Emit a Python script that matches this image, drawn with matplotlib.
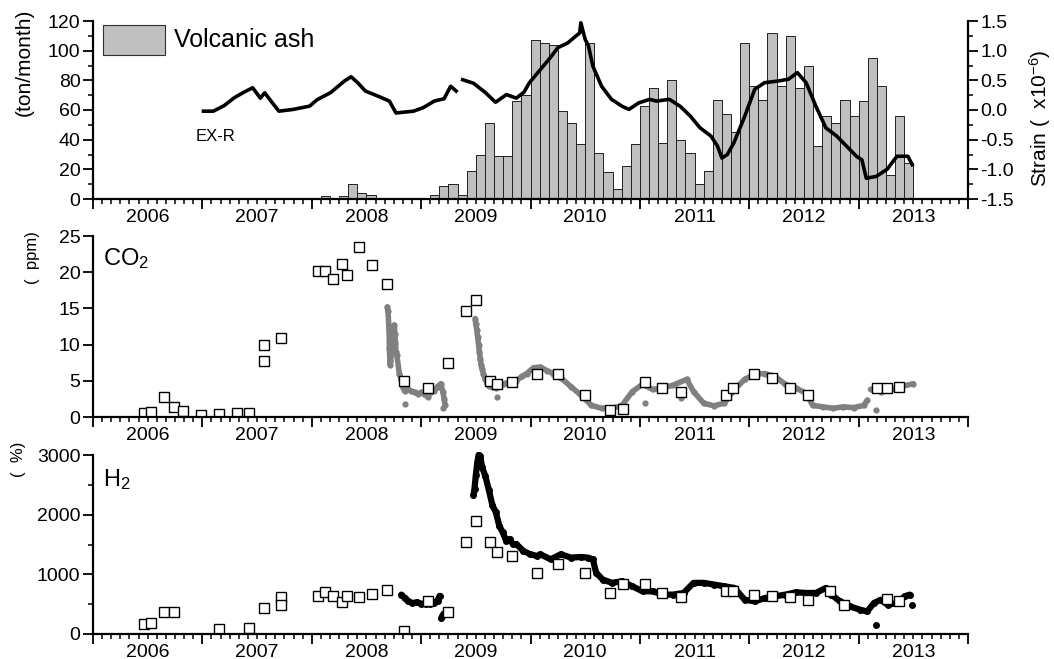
import matplotlib
matplotlib.use('Agg')
import numpy as np
import matplotlib.pyplot as plt
from matplotlib.patches import Rectangle
from matplotlib.ticker import MultipleLocator, FixedLocator, FuncFormatter, NullFormatter

plt.rcParams['font.family'] = ['Liberation Sans', 'DejaVu Sans']
plt.rcParams['axes.unicode_minus'] = False
plt.rcParams['mathtext.fontset'] = 'custom'
plt.rcParams['mathtext.rm'] = 'Liberation Sans'
plt.rcParams['mathtext.it'] = 'Liberation Sans:italic'

# ------------------------------------------------------------
# DATA
# ------------------------------------------------------------
# monthly volcanic ash, first bar = Feb 2008
ash_first_month = (2008, 2)
ash_tons = [2, 0, 2, 10, 4, 3, 0, 0, 0, 0, 0,
            1, 3, 9, 10, 3, 19, 30, 51, 29, 29, 66, 70,
            107, 105, 104, 59, 51, 37, 105, 31, 18, 7, 22, 37,
            63, 75, 38, 80, 40, 31, 10, 19, 67, 57, 45, 105,
            76, 67, 112, 76, 110, 75, 90, 36, 56, 51, 67, 56,
            66, 95, 76, 16, 56, 24]

# EX-R strain (x1e-6)
strain_year = [2007.01, 2007.10, 2007.20, 2007.29, 2007.38, 2007.46, 2007.53, 2007.57,
               2007.64, 2007.70, 2007.83, 2007.98, 2008.05, 2008.17, 2008.30, 2008.36,
               2008.42, 2008.49, 2008.61, 2008.71, 2008.77, 2008.93, 2009.02, 2009.12,
               2009.21, 2009.27, 2009.32, 2009.35, 2009.38, 2009.48, 2009.59, 2009.68,
               2009.78, 2009.87, 2009.94, 2009.99, 2010.09, 2010.18, 2010.25, 2010.34,
               2010.45, 2010.46, 2010.50, 2010.53, 2010.57, 2010.65, 2010.74, 2010.84,
               2010.90, 2010.99, 2011.09, 2011.15, 2011.27, 2011.37, 2011.46, 2011.55,
               2011.65, 2011.71, 2011.75, 2011.80, 2011.86, 2011.96, 2012.05, 2012.14,
               2012.27, 2012.36, 2012.44, 2012.52, 2012.61, 2012.70, 2012.80, 2012.89,
               2012.98, 2013.03, 2013.07, 2013.16, 2013.26, 2013.35, 2013.45, 2013.49]
strain_val = [-0.02, -0.02, 0.075, 0.205, 0.30, 0.375, 0.20, 0.29,
              0.12, -0.02, 0.01, 0.065, 0.175, 0.29, 0.49, 0.56,
              0.46, 0.32, 0.23, 0.15, -0.05, -0.02, 0.04, 0.15,
              0.19, 0.40, 0.32, np.nan, 0.51, 0.45, 0.29, 0.13,
              0.26, 0.20, 0.30, 0.46, 0.68, 0.88, 1.05, 1.13,
              1.30, 1.47, 1.19, 1.08, 0.74, 0.40, 0.18, 0.06,
              0.01, 0.12, 0.18, 0.15, 0.18, 0.06, -0.10, -0.30,
              -0.44, -0.61, -0.81, -0.75, -0.55, -0.10, 0.35, 0.46,
              0.49, 0.52, 0.63, 0.46, 0.06, -0.30, -0.44, -0.61,
              -0.78, -0.84, -1.15, -1.12, -1.00, -0.78, -0.78, -0.92]

# CO2 sampled (squares)
co2_smp_year = [2006.47, 2006.53, 2006.65, 2006.74, 2006.82, 2006.99, 2007.15, 2007.32,
                2007.43, 2007.56, 2007.56, 2007.72, 2008.06, 2008.12, 2008.19, 2008.28,
                2008.32, 2008.43, 2008.55, 2008.69, 2008.84, 2009.06, 2009.25, 2009.41,
                2009.50, 2009.63, 2009.69, 2009.83, 2010.06, 2010.25, 2010.50, 2010.73,
                2010.85, 2011.05, 2011.20, 2011.38, 2011.79, 2011.85, 2012.04, 2012.21,
                2012.37, 2012.54, 2013.17, 2013.26, 2013.37]
co2_smp_ppm = [0.56, 0.7, 2.8, 1.4, 0.85, 0.33, 0.47, 0.56,
               0.56, 9.96, 7.75, 10.95, 20.2, 20.2, 19.0, 21.1,
               19.6, 23.5, 21.0, 18.4, 5.0, 4.0, 7.4, 14.7,
               16.2, 5.0, 4.5, 4.9, 6.0, 6.0, 3.0, 1.0,
               1.1, 4.8, 4.0, 3.5, 3.0, 4.0, 6.0, 5.4,
               4.0, 3.0, 4.0, 4.0, 4.1]

# CO2 continuous (grey dots), three runs
co2_run1_year = [2008.691, 2008.697, 2008.707, 2008.710, 2008.715, 2008.718, 2008.754, 2008.760,
                 2008.765, 2008.770, 2008.778, 2008.801, 2008.817, 2008.830, 2008.848, 2008.88,
                 2008.91, 2008.94, 2008.97, 2009.00, 2009.03, 2009.06, 2009.09, 2009.12,
                 2009.15, 2009.18, 2009.20, 2009.21, 2009.22]
co2_run1_ppm = [15.2, 14.6, 12.0, 9.5, 7.7, 7.2, 12.7, 11.5,
                10.2, 9.0, 8.5, 6.0, 5.3, 4.2, 3.6, 3.8,
                3.6, 3.4, 3.2, 3.4, 3.2, 2.8, 3.5, 3.6,
                4.2, 4.6, 3.4, 2.5, 1.6]
co2_run2_year = [2009.494, 2009.50, 2009.509, 2009.517, 2009.525, 2009.533, 2009.541, 2009.549,
                 2009.557, 2009.57, 2009.588, 2009.60, 2009.62, 2009.65, 2009.683, 2009.72,
                 2009.75, 2009.777, 2009.82, 2009.871, 2009.92, 2009.966, 2010.027, 2010.09,
                 2010.152, 2010.21, 2010.277, 2010.370, 2010.463, 2010.557, 2010.650, 2010.744,
                 2010.837, 2010.930, 2011.024, 2011.117, 2011.210, 2011.304, 2011.429, 2011.491,
                 2011.584, 2011.677, 2011.771, 2011.865, 2011.958, 2012.051, 2012.144, 2012.237,
                 2012.331, 2012.425, 2012.518, 2012.580, 2012.673, 2012.767, 2012.861, 2012.954,
                 2013.047, 2013.078]
co2_run2_ppm = [13.6, 12.8, 12.0, 11.0, 10.0, 9.0, 8.0, 7.2,
                6.6, 6.0, 5.2, 4.7, 4.3, 4.1, 4.0, 4.3,
                4.5, 4.7, 4.8, 5.0, 5.6, 6.0, 6.8, 6.9,
                6.4, 6.0, 5.4, 4.2, 3.0, 1.6, 1.2, 1.2,
                1.6, 3.5, 4.5, 3.8, 4.0, 4.4, 5.2, 3.5,
                1.9, 1.55, 1.9, 3.8, 5.2, 5.9, 6.0, 5.6,
                4.5, 4.0, 3.3, 1.6, 1.4, 1.2, 1.4, 1.3,
                1.6, 2.3]
co2_run3_year = [2013.109, 2013.203, 2013.297, 2013.390, 2013.499]
co2_run3_ppm = [3.8, 3.5, 3.8, 4.2, 4.6]
co2_odd_year = [2008.85, 2009.20, 2009.69, 2011.05, 2011.38, 2013.156]
co2_odd_ppm = [1.8, 1.3, 2.8, 2.0, 2.6, 1.0]

# H2 sampled (squares)
h2_smp_year = [2006.47, 2006.53, 2006.65, 2006.74, 2007.15, 2007.43, 2007.56, 2007.72,
               2007.72, 2008.06, 2008.12, 2008.19, 2008.28, 2008.32, 2008.43, 2008.55,
               2008.69, 2008.84, 2009.06, 2009.25, 2009.41, 2009.50, 2009.63, 2009.69,
               2009.83, 2010.06, 2010.25, 2010.50, 2010.73, 2010.85, 2011.05, 2011.20,
               2011.38, 2011.79, 2011.85, 2012.04, 2012.21, 2012.37, 2012.54, 2012.74,
               2012.87, 2013.26, 2013.37]
h2_smp_pct = [170, 186, 361, 372, 79, 101, 429, 615,
              485, 632, 705, 643, 530, 632, 626, 665,
              739, 56, 553, 361, 1534, 1900, 1545, 1382,
              1308, 1015, 1173, 1015, 694, 846, 840, 688,
              615, 727, 716, 648, 637, 620, 575, 716,
              479, 586, 558]

# H2 continuous (black dots), three runs
h2_run1_year = [2008.82, 2008.85, 2008.88, 2008.92, 2008.96, 2009.00, 2009.04, 2009.08,
                2009.12, 2009.15, 2009.17]
h2_run1_pct = [660, 600, 550, 520, 530, 510, 500, 510, 520, 560, 640]
h2_run2_year = [2009.185, 2009.195, 2009.205]
h2_run2_pct = [260, 300, 340]
h2_run3_year = [2009.478, 2009.488, 2009.50, 2009.513, 2009.525, 2009.541, 2009.557, 2009.588,
                2009.620, 2009.652, 2009.683, 2009.714, 2009.746, 2009.777, 2009.808, 2009.84,
                2009.871, 2009.934, 2009.997, 2010.060, 2010.090, 2010.184, 2010.277, 2010.370,
                2010.463, 2010.525, 2010.57, 2010.60, 2010.66, 2010.744, 2010.837, 2010.93,
                2011.024, 2011.117, 2011.21, 2011.304, 2011.40, 2011.491, 2011.584, 2011.677,
                2011.771, 2011.865, 2011.958, 2012.051, 2012.144, 2012.237, 2012.331, 2012.425,
                2012.518, 2012.61, 2012.70, 2012.75, 2012.83, 2012.92, 2013.016, 2013.078,
                2013.14, 2013.203, 2013.265, 2013.359, 2013.42, 2013.468]
h2_run3_pct = [2323, 2436, 2662, 2860, 3000, 2980, 2800, 2640,
               2408, 2154, 2041, 1816, 1703, 1562, 1590, 1505,
               1505, 1393, 1336, 1308, 1336, 1252, 1336, 1280,
               1291, 1280, 1252, 1026, 913, 857, 885, 800,
               716, 716, 660, 660, 688, 857, 857, 829,
               800, 772, 575, 547, 603, 632, 660, 699,
               688, 688, 772, 660, 547, 462, 406, 378,
               519, 575, 490, 519, 632, 660]
h2_odd_year = [2013.156, 2013.49]
h2_odd_pct = [152, 479]

# ------------------------------------------------------------
# FIGURE
# ------------------------------------------------------------
W, H = 1054, 659
fig = plt.figure(figsize=(W / 100, H / 100), dpi=100)


def px_axes(x0, x1, ytop, ybot):
    return fig.add_axes([x0 / W, 1 - ybot / H, (x1 - x0) / W, (ybot - ytop) / H])


ax1 = px_axes(93, 968, 21, 199)
ax2 = px_axes(93, 968, 236, 417)
ax3 = px_axes(93, 968, 455, 634)

months = np.arange(2006, 2014 + 1e-9, 1 / 12)


def year_fmt(v, pos):
    frac = v - np.floor(v + 1e-6)
    if abs(frac - 0.5) < 1e-3:
        return str(int(np.floor(v)))
    return ''


for ax in (ax1, ax2, ax3):
    ax.set_xlim(2006, 2014)
    ax.xaxis.set_major_locator(FixedLocator(np.arange(2006, 2015)))
    ax.xaxis.set_major_formatter(NullFormatter())
    ax.xaxis.set_minor_locator(FixedLocator(months))
    ax.xaxis.set_minor_formatter(FuncFormatter(year_fmt))
    ax.spines['top'].set_visible(False)
    ax.spines['right'].set_visible(False)
    for s in ('left', 'bottom'):
        ax.spines[s].set_linewidth(1.6)
    ax.tick_params(axis='both', which='major', direction='out', length=7, width=1.3,
                   labelsize=14, pad=2)
    ax.tick_params(axis='both', which='minor', direction='out', length=3.5, width=1.1,
                   labelsize=14, pad=3.5)
    ax.tick_params(axis='y', which='minor', labelleft=False)

# ---------------- top panel: ash + strain ----------------
y0, m0 = ash_first_month
ash_x = [y0 + (m0 - 1 + i) / 12 + 1 / 24 for i in range(len(ash_tons))]
ax1.bar(ash_x, ash_tons, width=1 / 12, color='#c0c0c0', edgecolor='#202020', linewidth=0.7)
ax1.set_ylim(0, 120)
ax1.yaxis.set_major_locator(MultipleLocator(20))
ax1.yaxis.set_minor_locator(MultipleLocator(10))

ax1r = ax1.twinx()
ax1r.plot(strain_year, strain_val, color='black', lw=2.6)
ax1r.set_ylim(-1.5, 1.5)
ax1r.set_xlim(2006, 2014)
ax1r.yaxis.set_major_locator(MultipleLocator(0.5))
ax1r.yaxis.set_minor_locator(MultipleLocator(0.25))
ax1r.yaxis.set_major_formatter(FuncFormatter(lambda v, p: f'{v:.1f}'))
ax1r.spines['top'].set_visible(False)
ax1r.spines['left'].set_visible(False)
ax1r.spines['bottom'].set_visible(False)
ax1r.spines['right'].set_linewidth(1.6)
ax1r.tick_params(axis='y', which='major', direction='out', length=7, width=1.3, labelsize=14, pad=2)
ax1r.tick_params(axis='y', which='minor', direction='out', length=3.5, width=1.1)

ax1.add_patch(Rectangle((0.0114, 0.809), 0.0709, 0.1685, transform=ax1.transAxes,
                        facecolor='#c0c0c0', edgecolor='#303030', linewidth=0.8, clip_on=False))
ax1.text(0.0926, 0.893, 'Volcanic ash', transform=ax1.transAxes, fontsize=18,
         ha='left', va='center')
ax1r.text(2006.94, -0.45, 'EX-R', fontsize=12, ha='left', va='center')

fig.text(24 / W, 1 - 62 / H, '(ton/month)', rotation=90, fontsize=15, ha='center', va='center')
fig.text(1040 / W, 1 - 118 / H, 'Strain (  x10$^{-6}$)', rotation=90, fontsize=15,
         ha='center', va='center')

# ---------------- middle panel: CO2 ----------------
grey = '#808080'
for xs, ys in ((co2_run1_year, co2_run1_ppm), (co2_run2_year, co2_run2_ppm),
               (co2_run3_year, co2_run3_ppm)):
    ax2.plot(xs, ys, '-o', color=grey, lw=4, ms=3.5, mec=grey,
             solid_capstyle='round', solid_joinstyle='round')
ax2.plot(co2_odd_year, co2_odd_ppm, 'o', color=grey, ms=3.5)
ax2.plot(co2_smp_year, co2_smp_ppm, 's', mfc='white', mec='black', mew=1.0, ms=6.5)
ax2.set_ylim(0, 25)
ax2.yaxis.set_major_locator(MultipleLocator(5))
ax2.text(0.0114, 0.875, 'CO$_2$', transform=ax2.transAxes, fontsize=17, ha='left', va='center')
fig.text(33 / W, 1 - 258 / H, '(  ppm)', rotation=90, fontsize=12, ha='center', va='center')

# ---------------- bottom panel: H2 ----------------
for xs, ys in ((h2_run1_year, h2_run1_pct), (h2_run2_year, h2_run2_pct),
               (h2_run3_year, h2_run3_pct)):
    ax3.plot(xs, ys, '-o', color='black', lw=4.5, ms=4, clip_on=False,
             solid_capstyle='round', solid_joinstyle='round')
ax3.plot(h2_odd_year, h2_odd_pct, 'o', color='black', ms=4)
ax3.plot(h2_smp_year, h2_smp_pct, 's', mfc='white', mec='black', mew=1.0, ms=6.5)
ax3.set_ylim(0, 3000)
ax3.yaxis.set_major_locator(MultipleLocator(1000))
ax3.yaxis.set_minor_locator(MultipleLocator(500))
ax3.text(0.0114, 0.865, 'H$_2$', transform=ax3.transAxes, fontsize=17, ha='left', va='center')
fig.text(18 / W, 1 - 459 / H, '(  %)', rotation=90, fontsize=12, ha='center', va='center')

fig.savefig('out.png', dpi=100)
